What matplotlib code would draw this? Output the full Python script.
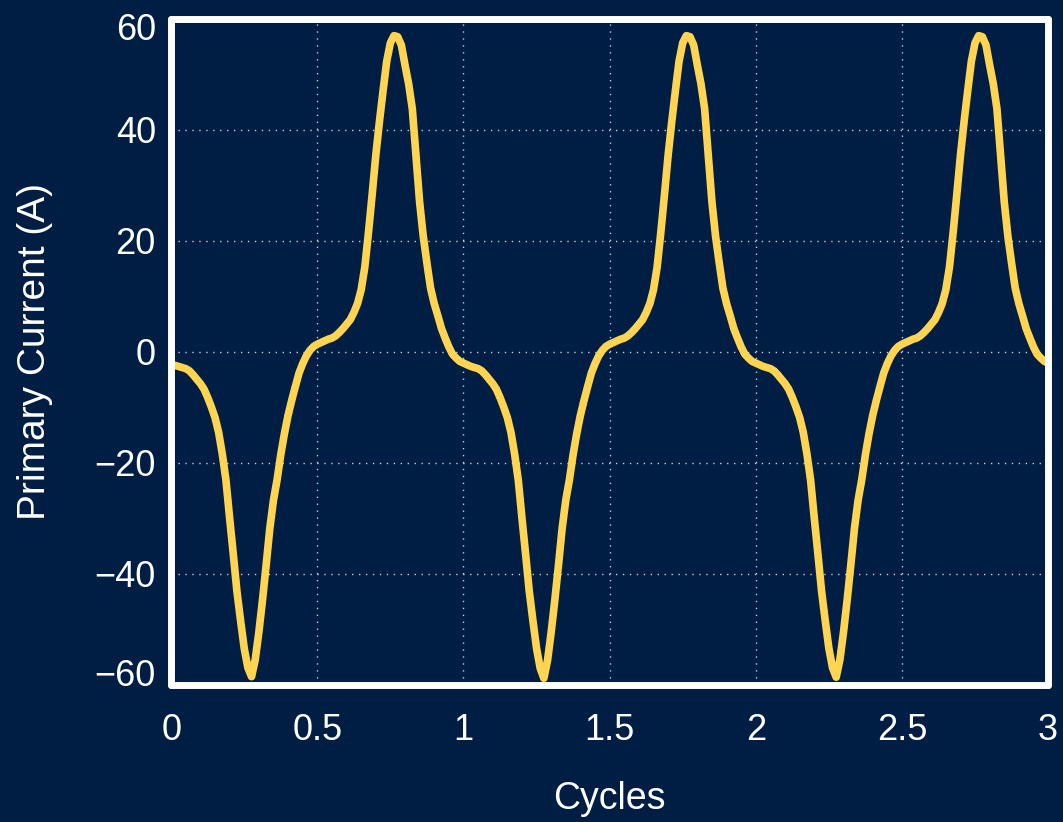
import matplotlib.pyplot as plt
import matplotlib.transforms as mtransforms
import numpy as np

plt.rcParams['font.family'] = ['Liberation Sans', 'DejaVu Sans']

# primary current, one sample every 1/80 cycle
cycle_1 = [-2.3, -2.4, -2.6, -2.8, -3.0, -3.4, -4.1, -4.9, -5.7, -6.7,
           -8.2, -9.9, -11.8, -14.5, -18.4, -23.1, -29.9, -36.4, -43.1, -48.4,
           -53.4, -56.9, -58.5, -55.5, -50.5, -44.7, -38.4, -31.8, -26.7, -23.0,
           -18.5, -14.7, -11.4, -8.7, -6.2, -3.8, -2.1, -0.7, 0.3, 1.0,
           1.4, 1.7, 2.0, 2.3, 2.5, 2.9, 3.5, 4.2, 5.0, 5.8,
           7.1, 8.7, 11.2, 15.3, 21.5, 28.3, 35.4, 41.5, 47.1, 52.4,
           55.7, 57.0, 56.8, 55.3, 51.7, 48.3, 43.8, 35.4, 27.0, 20.8,
           16.0, 11.5, 8.7, 6.5, 4.2, 2.5, 0.9, -0.4, -1.1, -1.7,
           -2.0]
cycle_2 = [-2.3, -2.6, -2.8, -3.0, -3.4, -4.1, -4.9, -5.7, -6.7,
           -8.2, -9.9, -11.8, -14.5, -18.4, -23.1, -29.9, -36.4, -43.1, -48.4,
           -53.4, -57.0, -58.8, -55.6, -50.5, -44.7, -38.4, -31.8, -26.7, -23.0,
           -18.5, -14.7, -11.4, -8.7, -6.2, -3.8, -2.1, -0.7, 0.3, 1.0,
           1.4, 1.7, 2.0, 2.3, 2.5, 2.9, 3.5, 4.2, 5.0, 5.8,
           7.1, 8.7, 11.2, 15.3, 21.5, 28.3, 35.4, 41.5, 47.1, 52.4,
           55.7, 57.0, 56.8, 55.3, 51.7, 48.3, 43.8, 35.4, 27.0, 20.8,
           16.0, 11.5, 8.7, 6.5, 4.2, 2.5, 0.9, -0.4, -1.1, -1.7,
           -2.0]
cycle_3 = [-2.3, -2.6, -2.8, -3.0, -3.4, -4.1, -4.9, -5.7, -6.7,
           -8.2, -9.9, -11.8, -14.5, -18.4, -23.1, -29.9, -36.4, -43.1, -48.4,
           -53.4, -56.9, -58.6, -55.5, -50.5, -44.7, -38.4, -31.8, -26.7, -23.0,
           -18.5, -14.7, -11.4, -8.7, -6.2, -3.8, -2.1, -0.7, 0.3, 1.0,
           1.4, 1.7, 2.0, 2.3, 2.5, 2.9, 3.5, 4.2, 5.0, 5.8,
           7.1, 8.7, 11.2, 15.3, 21.5, 28.3, 35.4, 41.5, 47.1, 52.4,
           55.7, 57.0, 56.8, 55.3, 51.7, 48.3, 43.8, 35.4, 27.0, 20.8,
           16.0, 11.5, 8.7, 6.5, 4.2, 2.5, 0.9, -0.4, -1.1, -1.7,
           -2.0]
current = cycle_1 + cycle_2 + cycle_3
cycles = np.linspace(0, 3, len(current))

x_ticks = [0, 0.5, 1, 1.5, 2, 2.5, 3]
x_tick_labels = ['0', '0.5', '1', '1.5', '2', '2.5', '3']
y_ticks = [-60, -40, -20, 0, 20, 40, 60]

bg = '#001e44'
fig = plt.figure(figsize=(10.63, 8.22), dpi=100, facecolor=bg)
ax = fig.add_axes([0.161, 0.1667, 0.825, 0.8102])
ax.set_facecolor(bg)

ax.plot(cycles, current, color='#ffd451', lw=5.5,
        solid_joinstyle='round', solid_capstyle='round')

ax.set_xlim(0, 3)
ax.set_ylim(-60, 60)
ax.set_xticks(x_ticks)
ax.set_xticklabels(x_tick_labels)
ax.set_yticks(y_ticks)
ax.grid(True, color='#c5cdd8', linestyle=(0, (1, 4)), linewidth=1.0)
ax.set_axisbelow(True)

for sp in ax.spines.values():
    sp.set_color('white')
    sp.set_linewidth(5)
    sp.set_capstyle('round')

ax.tick_params(length=0, labelsize=26, labelcolor='white')
ax.tick_params(axis='x', pad=20)
ax.tick_params(axis='y', pad=11)
ax.set_xlabel('Cycles', color='white', fontsize=27, labelpad=24)
ax.set_ylabel('Primary Current (A)', color='white', fontsize=28, labelpad=30)

# end labels on the y axis sit a little inside the frame
yt = ax.yaxis.get_major_ticks()
lab = yt[-1].label1
lab.set_transform(lab.get_transform() +
                  mtransforms.ScaledTranslation(0, -0.08, fig.dpi_scale_trans))
lab = yt[0].label1
lab.set_transform(lab.get_transform() +
                  mtransforms.ScaledTranslation(0, 0.12, fig.dpi_scale_trans))

fig.savefig('out.png', dpi=100, facecolor=bg)
